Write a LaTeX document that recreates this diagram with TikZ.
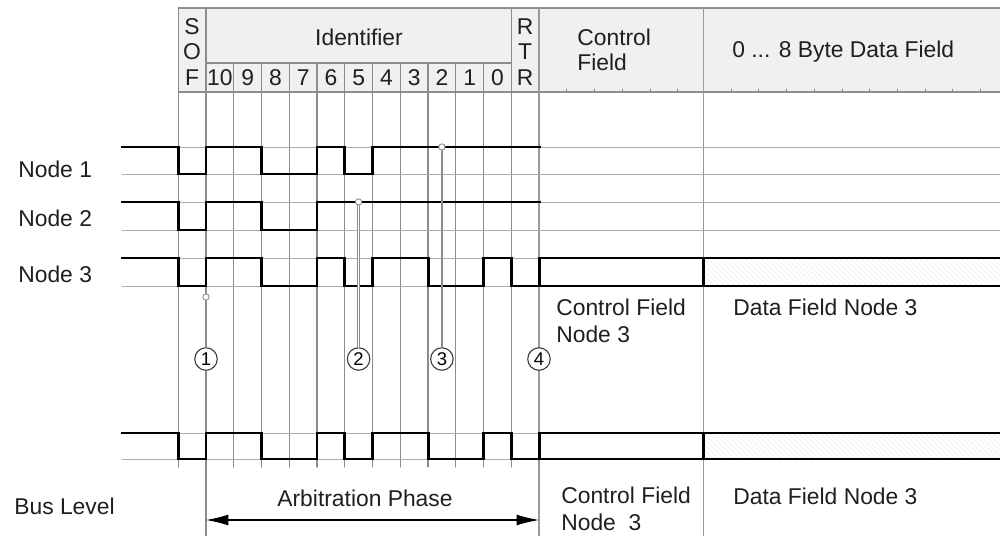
\documentclass[tikz,border=0pt]{standalone}
\usepackage{fontspec}
\setmainfont{Liberation Sans}
\usetikzlibrary{arrows.meta,patterns}

\begin{document}
\begin{tikzpicture}[x=0.02cm,y=-0.02cm,>={Latex[length=4.5mm,width=2.2mm]},
  font=\fontsize{13}{15}\selectfont,line cap=round,
  bitline/.style={gray!90,line width=0.75pt},
  fieldline/.style={gray!80,line width=1.1pt},
  level/.style={gray!65,line width=0.55pt},
  wave/.style={black,line width=1.7pt,line join=miter,line cap=rect},
  lbl/.style={inner sep=0pt,text=black!88},
  tap/.style={circle,draw=gray!90,fill=white,line width=0.5pt,inner sep=0pt,minimum size=3.6pt},
  tapline/.style={gray!90,line width=0.75pt},
  numc/.style={circle,draw=black!75,fill=white,line width=0.65pt,inner sep=0pt,minimum size=0.45cm,
    font=\fontsize{10.5}{10.5}\selectfont}]
\useasboundingbox (0,0) rectangle (1000,536);

% frame header
\fill[black!6] (178.25,8) rectangle (1000,92);
\draw[bitline] (178.25,8) -- (1000,8) (178.25,92) -- (1000,92) (206,63) -- (511.25,63);
\draw[bitline] (178.25,8) -- (178.25,467) (206,8) -- (206,536) (511.25,8) -- (511.25,467);
\draw[bitline] (233.75,63) -- (233.75,467) (261.5,63) -- (261.5,467) (289.25,63) -- (289.25,467)
  (317,63) -- (317,467) (344.75,63) -- (344.75,467) (372.5,63) -- (372.5,467)
  (400.25,63) -- (400.25,467) (428,63) -- (428,467) (455.75,63) -- (455.75,467)
  (483.5,63) -- (483.5,467);
\draw[fieldline] (539,8) -- (539,536) (703.5,8) -- (703.5,536);
% bit ticks under control and data field
\draw[bitline,line width=0.5pt] (566.75,92) -- (566.75,89) (594.5,92) -- (594.5,89)
  (622.25,92) -- (622.25,89) (650,92) -- (650,89) (677.75,92) -- (677.75,89)
  (731.2,92) -- (731.2,89) (758.9,92) -- (758.9,89) (786.6,92) -- (786.6,89)
  (814.3,92) -- (814.3,89) (842,92) -- (842,89) (869.7,92) -- (869.7,89)
  (897.4,92) -- (897.4,89) (925.1,92) -- (925.1,89) (952.8,92) -- (952.8,89)
  (980.5,92) -- (980.5,89);

% signal levels
\draw[level] (122,147) -- (1000,147) (122,174) -- (1000,174);
\draw[level] (122,202) -- (1000,202) (122,230) -- (1000,230);
\draw[level] (122,258) -- (1000,258) (122,286) -- (1000,286);
\draw[level] (122,433) -- (1000,433) (122,459) -- (1000,459);
\fill[pattern=north west lines,pattern color=black!6] (703.5,258) rectangle (1000,286);
\fill[pattern=north west lines,pattern color=black!6] (703.5,433) rectangle (1000,459);

% node 1, node 2, node 3 and bus
\draw[wave] (122,147) -| (178.25,174) -| (206,147) -| (261.5,174) -| (317,147)
  -| (344.75,174) -| (372.5,147) -- (539,147);
\draw[wave] (122,202) -| (178.25,230) -| (206,202) -| (261.5,230) -| (317,202) -- (539,202);
\draw[wave] (122,258) -| (178.25,286) -| (206,258) -| (261.5,286) -| (317,258)
  -| (344.75,286) -| (372.5,258) -| (428,286) -| (483.5,258) -| (511.25,286)
  -| (539,258) -- (1000,258);
\draw[wave] (539,286) -- (1000,286) (703.5,258) -- (703.5,286);
\draw[wave] (122,433) -| (178.25,459) -| (206,433) -| (261.5,459) -| (317,433)
  -| (344.75,459) -| (372.5,433) -| (428,459) -| (483.5,433) -| (511.25,459)
  -| (539,433) -- (1000,433);
\draw[wave] (539,459) -- (1000,459) (703.5,433) -- (703.5,459);

% arbitration points
\node[tap] (t1) at (206,297) {};
\node[tap] (t2) at (358.6,202) {};
\node[tap] (t3) at (441.9,147) {};
\node[numc] (c1) at (206,359) {1};
\node[numc] (c2) at (358.6,359) {2};
\node[numc] (c3) at (441.9,359) {3};
\node[numc] (c4) at (539,359) {4};
\draw[tapline] (t1) -- (c1);
\draw[gray!90,line width=0.45pt,double=white,double distance=0.7pt] (t2) -- (c2);
\draw[tapline] (t3) -- (c3);

% header texts
\node[lbl,align=center,font=\fontsize{13}{14.7}\selectfont] (sof) at (192,52) {S\\O\\F};
\node[lbl,align=center,font=\fontsize{13}{14.7}\selectfont] (rtr) at (525.1,52) {R\\T\\R};
\node[lbl] (ident) at (359,37) {Identifier};
\node[lbl] (b10) at (219.9,78) {10};
\node[lbl] (b9) at (247.6,78) {9};
\node[lbl] (b8) at (275.4,78) {8};
\node[lbl] (b7) at (303.1,78) {7};
\node[lbl] (b6) at (330.9,78) {6};
\node[lbl] (b5) at (358.6,78) {5};
\node[lbl] (b4) at (386.4,78) {4};
\node[lbl] (b3) at (414.1,78) {3};
\node[lbl] (b2) at (441.9,78) {2};
\node[lbl] (b1) at (469.6,78) {1};
\node[lbl] (b0) at (497.4,78) {0};
\node[lbl,anchor=west,align=left,font=\fontsize{13}{14.2}\selectfont] (ctlhd) at (577,50) {Control\\Field};
\node[lbl,anchor=west] (datahd) at (732,52) {0 ... 8 Byte Data Field};

% row labels
\node[lbl,anchor=west] (n1) at (18,169) {Node 1};
\node[lbl,anchor=west] (n2) at (18,218) {Node 2};
\node[lbl,anchor=west] (n3) at (18,274) {Node 3};
\node[lbl,anchor=west] (bus) at (14,506) {Bus Level};
\node[lbl,anchor=west,align=left] (ctl3) at (556,321) {Control Field\\Node 3};
\node[lbl,anchor=west] (data3) at (733,307) {Data Field Node 3};
\node[lbl,anchor=west,align=left] (ctlbus) at (561,509) {Control Field\\Node\ \ 3};
\node[lbl,anchor=west] (databus) at (733,496) {Data Field Node 3};

% arbitration phase
\coordinate (arbL) at (206,520);
\coordinate (arbR) at (539,520);
\draw[<->,line width=0.6pt] (arbL) -- (arbR);
\node[lbl] (arb) at (365,498) {Arbitration Phase};
\end{tikzpicture}
\end{document}
